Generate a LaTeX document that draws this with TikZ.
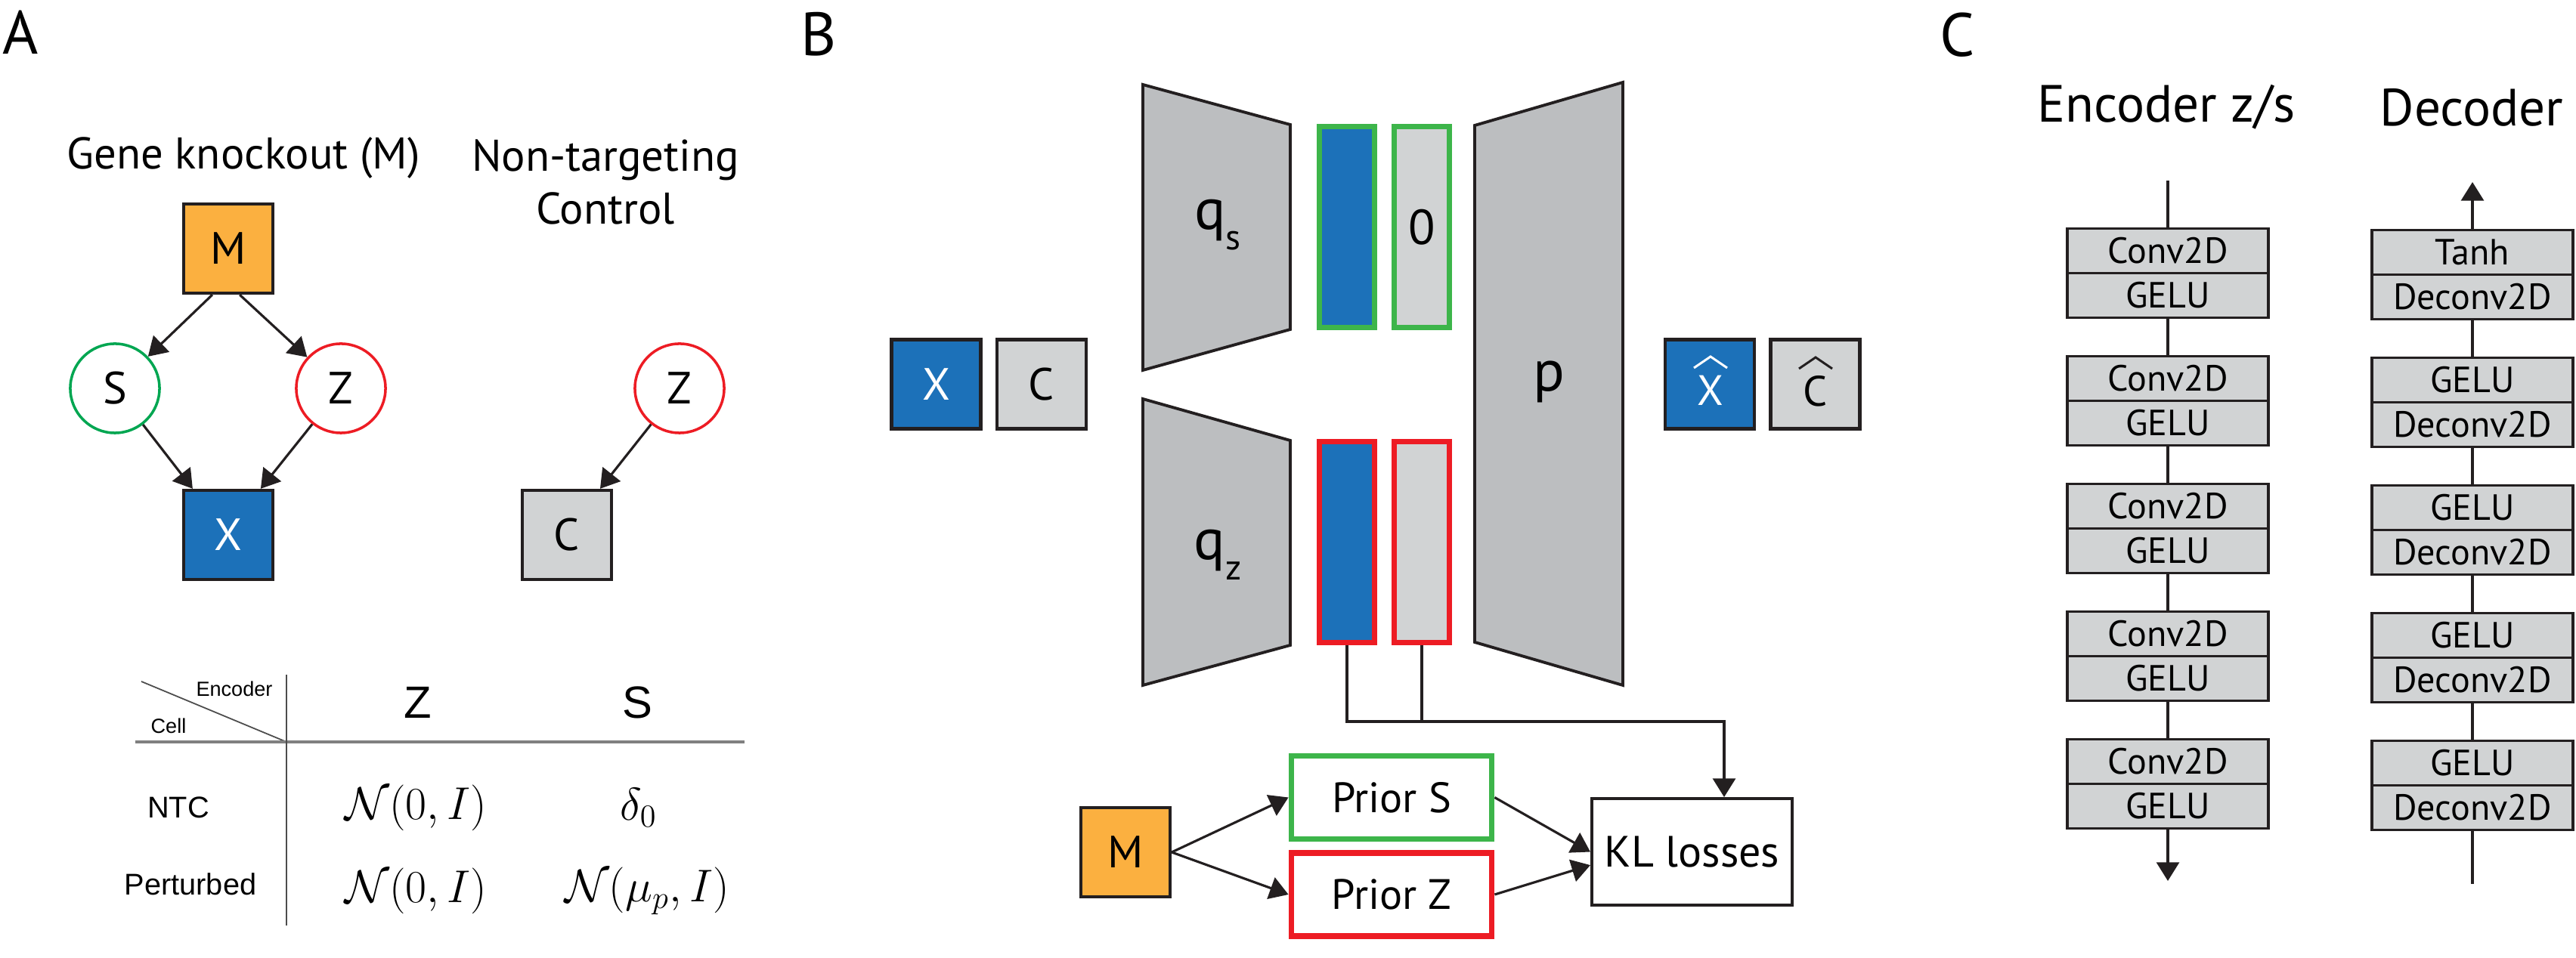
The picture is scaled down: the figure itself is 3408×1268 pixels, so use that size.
\documentclass[tikz,border=0pt]{standalone}
\usepackage{fontspec}
\setmainfont{PT Sans}
\newfontfamily\tabfont{Liberation Sans}
\usetikzlibrary{arrows.meta,calc,backgrounds}
\definecolor{dark}{HTML}{231F20}
\definecolor{korange}{HTML}{FBB040}
\definecolor{kblue}{HTML}{1C71B9}
\definecolor{klight}{HTML}{D1D3D4}
\definecolor{kgray}{HTML}{BCBEC0}
\definecolor{kgreen}{HTML}{00A651}
\definecolor{bgreen}{HTML}{3DB54A}
\definecolor{kred}{HTML}{ED1C24}
\newcommand{\fsz}[1]{\fontsize{#1}{0}\selectfont}
\newcommand{\encx}{2868}
\newcommand{\decx}{3271}
\newcommand{\lpitch}{169}
\newcommand{\subq}[1]{q\raisebox{-7.7pt}{\fsz{13.5}#1}}
\newcommand{\hatover}[2]{
  \draw[#2,line width=0.85pt] ($#1+(-22,-30)$) -- ($#1+(0,-45)$) -- ($#1+(22,-30)$);
}

\begin{document}
\begin{tikzpicture}[x=0.01cm,y=-0.01cm,>={Triangle[length=7pt,width=8.5pt]},
  box/.style={draw=dark,line width=1.2pt,minimum size=1.18cm,inner sep=0pt,font=\fsz{17}},
  lat/.style={circle,draw,line width=1pt,minimum size=1.18cm,inner sep=0pt,font=\fsz{17}},
  wire/.style={draw=dark,line width=0.9pt},
  net/.style={draw=dark,fill=kgray,line width=1.1pt},
  bar/.style={draw,line width=2pt,minimum width=0.73cm,minimum height=2.66cm,inner sep=0pt},
  prior/.style={draw,fill=white,line width=2.2pt,minimum width=2.65cm,minimum height=1.1cm,font=\fsz{16}},
  layer/.style={draw=dark,fill=klight,line width=1.1pt,minimum width=2.66cm,minimum height=0.59cm,inner sep=0pt,font=\fsz{13.7}},
  panel/.style={inner sep=0pt,font=\fsz{23}},
  tab/.style={inner sep=0pt,font=\tabfont\fsz{#1}},
  tab/.default=11.3]
  \useasboundingbox (0,0) rectangle (3408,1268);

  \node[panel] (la) at (27,43) {A};
  \node[panel] (lb) at (1083,45) {B};
  \node[panel] (lc) at (2590,46) {C};

  \node[inner sep=0pt,font=\fsz{16.7}] (gk) at (322,209) {Gene knockout (M)};
  \node[inner sep=0pt,align=center,font=\fontsize{16.7}{20}\selectfont] (ntc) at (801,241) {Non-targeting\\Control};

  \node[box,fill=korange] (m) at (302,329) {M};
  \node[lat,draw=kgreen] (s) at (152,514) {S};
  \node[lat,draw=kred] (z) at (451,514) {Z};
  \node[box,fill=kblue,text=white] (x) at (302,708) {X};
  \node[lat,draw=kred] (z2) at (899,514) {Z};
  \node[box,fill=klight] (c) at (750,708) {C};

  \draw[wire,->] ([xshift=-6pt]m.south) -- (s);
  \draw[wire,->] ([xshift=4.3pt]m.south) -- (z);
  \draw[wire,->] (s) -- ([xshift=-13.4pt]x.north);
  \draw[wire,->] (z) -- ([xshift=12.2pt]x.north);
  \draw[wire,->] (z2) -- ([xshift=12.5pt]c.north);

  \draw[gray!60!black,line width=0.5pt] (187,902) -- (379,982);
  \draw[gray,line width=0.9pt] (179,982) -- (985,982);
  \draw[gray!60!black,line width=0.45pt] (379,893) -- (379,1225);
  \node[tab=7.7] (enc) at (310,912) {Encoder};
  \node[tab=7.7] (cell) at (223,961) {Cell};
  \node[tab=17] (hz) at (553,930) {Z};
  \node[tab=17] (hs) at (843,930) {S};
  \node[tab] (rn) at (236,1069) {NTC};
  \node[tab] (rp) at (252,1170) {Perturbed};
  \node[inner sep=0pt,font=\fsz{16.5}] (nz) at (550,1069) {$\mathcal{N}(0,I)$};
  \node[inner sep=0pt,font=\fsz{16.5}] (ns) at (845,1069) {$\delta_0$};
  \node[inner sep=0pt,font=\fsz{16.5}] (pz0) at (550,1179) {$\mathcal{N}(0,I)$};
  \node[inner sep=0pt,font=\fsz{16.5}] (ps0) at (856,1179) {$\mathcal{N}(\mu_p,I)$};

  \path[net] (1512,112) -- (1707,165) -- (1707,436) -- (1512,490) -- cycle;
  \path[net] (1512,528) -- (1707,583) -- (1707,854) -- (1512,907) -- cycle;
  \path[net] (1951,166) -- (2147,109) -- (2147,907) -- (1951,850) -- cycle;
  \node[inner sep=0pt,font=\fsz{22}] (qs) at (1611,298) {\subq{s}};
  \node[inner sep=0pt,font=\fsz{22}] (qz) at (1611,734) {\subq{z}};
  \node[inner sep=0pt,font=\fsz{22}] (p) at (2049,505) {p};

  \node[box,fill=kblue,text=white] (xin) at (1238.5,508.5) {X};
  \node[box,fill=klight] (cin) at (1378,508.5) {C};
  \node[box,fill=kblue] (xout) at (2262,508.5) {};
  \node[box,fill=klight] (cout) at (2401.5,508.5) {};
  \node[inner sep=0pt,font=\fsz{16},text=white] (xh) at (2263,517) {X};
  \node[inner sep=0pt,font=\fsz{16}] (ch) at (2402,518) {C};
  \hatover{(xh)}{white}
  \hatover{(ch)}{dark}

  \node[bar,draw=bgreen,fill=kblue] (sb) at (1782,300.5) {};
  \node[bar,draw=bgreen,fill=klight,font=\fsz{18.5}] (sg) at (1881,300.5) {0};
  \node[bar,draw=kred,fill=kblue] (zb) at (1782,717.5) {};
  \node[bar,draw=kred,fill=klight] (zg) at (1881,717.5) {};

  \node[box,fill=korange] (mb) at (1489,1128) {M};
  \node[prior,draw=bgreen] (ps) at (1841,1055.5) {Prior S};
  \node[prior,draw=kred] (pz) at (1841,1184) {Prior Z};
  \node[draw=dark,line width=1.1pt,minimum width=2.65cm,minimum height=1.41cm,font=\fsz{16.5}] (kl) at (2238.5,1127.5) {KL losses};

  \draw[wire,->] (mb.east) -- (ps.west);
  \draw[wire,->] (mb.east) -- (pz.west);
  \draw[wire,->] (ps.east) -- (kl.west);
  \draw[wire,->] (pz.east) -- ([yshift=-5pt]kl.west);
  \coordinate (fb) at (2281,955);
  \draw[wire] (zg.south) -- (zg.south |- fb);
  \draw[wire,->] (zb.south) |- (fb) -- (fb |- kl.north);

  \node[inner sep=0pt,font=\fsz{19.7}] (ench) at (2866,142) {Encoder z/s};
  \node[inner sep=0pt,font=\fsz{19.7}] (dech) at (3270,142) {Decoder};
  \coordinate (ein) at (\encx,239);
  \coordinate (eout) at (\encx,1166);
  \coordinate (din) at (\decx,1170);
  \coordinate (dout) at (\decx,241);
  \foreach \i in {0,...,4} {
    \node[layer] (ea\i) at (\encx,{332+\lpitch*\i}) {Conv2D};
    \node[layer] (eb\i) at (\encx,{391+\lpitch*\i}) {GELU};
  }
  \foreach \i/\t in {0/Tanh,1/GELU,2/GELU,3/GELU,4/GELU} {
    \node[layer] (da\i) at (\decx,{334+\lpitch*\i}) {\t};
    \node[layer] (db\i) at (\decx,{393+\lpitch*\i}) {Deconv2D};
  }
  \draw[wire] (ein) -- (ea0.north);
  \foreach \i [evaluate=\i as \j using int(\i+1)] in {0,...,3} {
    \draw[wire] (eb\i.south) -- (ea\j.north);
    \draw[wire] (da\j.north) -- (db\i.south);
  }
  \draw[wire,->] (eb4.south) -- (eout);
  \draw[wire] (din) -- (db4.south);
  \draw[wire,->] (da0.north) -- (dout);

  \iffalse
  \begin{scope}[on background layer]
    \draw[help lines] (0,0) grid[step=100] (3408,1268);
  \end{scope}
  \fi
\end{tikzpicture}
\end{document}
